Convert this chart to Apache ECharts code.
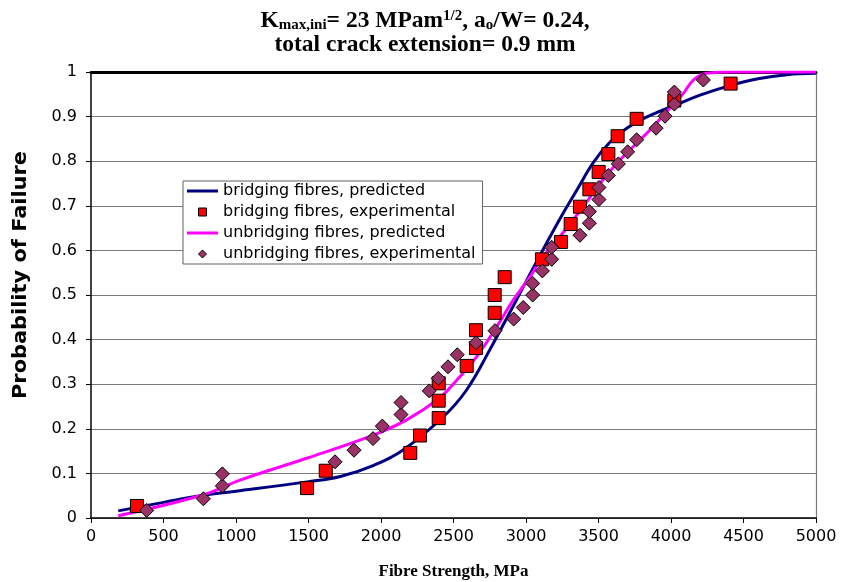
<!DOCTYPE html>
<html>
<head>
<meta charset="utf-8">
<script src="https://cdn.jsdelivr.net/npm/echarts@6/dist/echarts.min.js"></script>
<style>
  html, body { margin: 0; padding: 0; background: #fff; }
  #chart { width: 850px; height: 582px; }
</style>
</head>
<body>
<div id="chart"></div>
<script>
// Fibre strength (MPa) vs. cumulative probability of failure
const bridgingPredicted = [
  [188, 0.016], [500, 0.035], [775, 0.051], [1000, 0.060], [1490, 0.081],
  [1720, 0.093], [1950, 0.118], [2150, 0.152], [2430, 0.227], [2590, 0.287],
  [2750, 0.377], [2913, 0.476], [3028, 0.547], [3143, 0.617], [3250, 0.680],
  [3350, 0.735], [3464, 0.797], [3580, 0.843], [3700, 0.875], [3820, 0.897],
  [3924, 0.912], [4040, 0.927], [4200, 0.948], [4411, 0.970], [4600, 0.985],
  [4800, 0.994], [5000, 0.997]
];
const bridgingExperimental = [
  [317, 0.027], [1490, 0.067], [1619, 0.106], [2202, 0.146], [2269, 0.185],
  [2398, 0.224], [2398, 0.263], [2398, 0.302], [2591, 0.341], [2655, 0.381],
  [2655, 0.421], [2784, 0.460], [2784, 0.500], [2853, 0.540], [3110, 0.580],
  [3241, 0.619], [3308, 0.659], [3372, 0.698], [3437, 0.737], [3501, 0.776],
  [3568, 0.816], [3632, 0.856], [3763, 0.895], [4023, 0.936], [4411, 0.974]
];
const unbridgingPredicted = [
  [188, 0.005], [775, 0.052], [1028, 0.085], [1487, 0.134], [1947, 0.186],
  [2177, 0.220], [2407, 0.270], [2522, 0.309], [2660, 0.362], [2798, 0.429],
  [2913, 0.489], [3028, 0.541], [3100, 0.578], [3234, 0.631], [3395, 0.698],
  [3510, 0.750], [3626, 0.795], [3740, 0.833], [3855, 0.870], [3970, 0.911],
  [4085, 0.952], [4154, 0.982], [4246, 0.997], [4430, 1.000], [5000, 1.000]
];
const unbridgingExperimental = [
  [384, 0.017], [775, 0.043], [906, 0.072], [906, 0.099], [1683, 0.126],
  [1814, 0.152], [1945, 0.178], [2009, 0.206], [2138, 0.232], [2138, 0.259],
  [2333, 0.285], [2395, 0.313], [2462, 0.339], [2526, 0.366], [2655, 0.393],
  [2786, 0.420], [2915, 0.446], [2981, 0.472], [3046, 0.500], [3046, 0.526],
  [3113, 0.554], [3177, 0.580], [3177, 0.607], [3372, 0.634], [3437, 0.661],
  [3437, 0.687], [3503, 0.714], [3503, 0.741], [3568, 0.768], [3637, 0.794],
  [3701, 0.821], [3763, 0.848], [3897, 0.874], [3959, 0.901], [4023, 0.928],
  [4023, 0.955], [4223, 0.982]
];
const seriesNames = [
  'bridging fibres, predicted',
  'bridging fibres, experimental',
  'unbridging fibres, predicted',
  'unbridging fibres, experimental'
];
const xRange = [0, 5000, 500];
const yRange = [0, 1, 0.1];
const yAxisTitle = 'Probability of Failure';
const xAxisTitle = 'Fibre Strength, MPa';

const wideSans = 'DejaVu Sans, Verdana, sans-serif';
const serif = 'Liberation Serif, Times New Roman, serif';

const colors = {
  bridgingLine: '#000080',
  bridgingMark: '#ff0000',
  unbridgingLine: '#ff00ff',
  unbridgingMark: '#993366'
};

const chart = echarts.init(document.getElementById('chart'), null, { renderer: 'canvas' });

chart.setOption({
  animation: false,
  backgroundColor: '#ffffff',
  title: {
    left: 'center',
    top: 9,
    padding: [0, 8, 0, 0],
    text: '{b|K}{s|max,ini}{b|= 23 MPam}{p|1/2}{b|, a}{s|o}{b|/W= 0.24,}\n{b|total crack extension= 0.9 mm}',
    textStyle: {
      rich: {
        b: { fontFamily: serif, fontWeight: 'bold', fontSize: 23.5, color: '#000', lineHeight: 24 },
        s: { fontFamily: serif, fontWeight: 'bold', fontSize: 15, color: '#000', lineHeight: 16, verticalAlign: 'bottom' },
        p: { fontFamily: serif, fontWeight: 'bold', fontSize: 15, color: '#000', lineHeight: 14, verticalAlign: 'top' }
      }
    }
  },
  grid: { left: 91, right: 34, top: 72, bottom: 64, containLabel: false, outerBoundsMode: 'none' },
  graphic: [{
    type: 'text',
    x: 21,
    y: 275,
    rotation: Math.PI / 2,
    scaleX: 1.1,
    style: {
      text: yAxisTitle,
      font: 'bold 19px ' + wideSans,
      fill: '#000',
      align: 'center',
      verticalAlign: 'middle'
    }
  }],
  legend: {
    orient: 'vertical',
    left: 183,
    top: 181,
    padding: [2, 7, 2, 4],
    itemGap: 5,
    itemWidth: 31,
    itemHeight: 8,
    backgroundColor: '#ffffff',
    borderColor: '#606060',
    borderWidth: 1,
    textStyle: { fontFamily: wideSans, fontSize: 16, color: '#000', lineHeight: 16 },
    data: [
      { name: seriesNames[0], icon: 'path://M0,0 L31,0 L31,3 L0,3 Z',
        itemStyle: { color: colors.bridgingLine, borderWidth: 0 } },
      { name: seriesNames[1], icon: 'path://M0,0 L10,0 L10,10 L0,10 Z',
        itemStyle: { color: colors.bridgingMark, borderColor: '#000', borderWidth: 1 } },
      { name: seriesNames[2], icon: 'path://M0,0 L31,0 L31,3 L0,3 Z',
        itemStyle: { color: colors.unbridgingLine, borderWidth: 0 } },
      { name: seriesNames[3], icon: 'path://M5,0 L10,5 L5,10 L0,5 Z',
        itemStyle: { color: colors.unbridgingMark, borderColor: '#000', borderWidth: 1 } }
    ]
  },
  xAxis: [{
    type: 'value',
    min: xRange[0], max: xRange[1], interval: xRange[2],
    name: xAxisTitle,
    nameLocation: 'middle',
    nameGap: 45,
    nameTextStyle: { fontFamily: serif, fontWeight: 'bold', fontSize: 17, color: '#000' },
    axisLine: { onZero: false, lineStyle: { color: '#000', width: 1.5 } },
    axisTick: { show: true, length: 5, lineStyle: { color: '#000' } },
    axisLabel: { fontFamily: wideSans, fontSize: 16, color: '#000', margin: 11,
      formatter: v => String(v) },
    splitLine: { show: false }
  }, {
    type: 'value',
    position: 'top',
    min: xRange[0], max: xRange[1], interval: xRange[2],
    axisLine: { show: true, onZero: false, lineStyle: { color: '#000', width: 3 } },
    axisTick: { show: false },
    axisLabel: { show: false },
    splitLine: { show: false }
  }],
  yAxis: [{
    type: 'value',
    min: yRange[0], max: yRange[1], interval: yRange[2],
    axisLine: { show: true, onZero: false, lineStyle: { color: '#000', width: 1.5 } },
    axisTick: { show: true, length: 5, lineStyle: { color: '#000' } },
    axisLabel: { fontFamily: wideSans, fontSize: 16, color: '#000', margin: 14 },
    splitLine: { show: true, lineStyle: { color: '#7a7a7a', width: 1.2 } }
  }, {
    type: 'value',
    position: 'right',
    min: yRange[0], max: yRange[1], interval: yRange[2],
    axisLine: { show: true, onZero: false, lineStyle: { color: '#7a7a7a', width: 1.2 } },
    axisTick: { show: false },
    axisLabel: { show: false },
    splitLine: { show: false }
  }],
  series: [
    {
      name: seriesNames[0],
      type: 'line',
      data: bridgingPredicted,
      smooth: 0.4,
      symbol: 'none',
      lineStyle: { color: colors.bridgingLine, width: 3 },
      itemStyle: { color: colors.bridgingLine },
      z: 2
    },
    {
      name: seriesNames[1],
      type: 'scatter',
      data: bridgingExperimental,
      symbol: 'rect',
      symbolSize: 13,
      itemStyle: { color: colors.bridgingMark, borderColor: '#000', borderWidth: 1, opacity: 1 },
      z: 3
    },
    {
      name: seriesNames[2],
      type: 'line',
      data: unbridgingPredicted,
      smooth: 0.4,
      symbol: 'none',
      lineStyle: { color: colors.unbridgingLine, width: 3 },
      itemStyle: { color: colors.unbridgingLine },
      z: 2
    },
    {
      name: seriesNames[3],
      type: 'scatter',
      data: unbridgingExperimental,
      symbol: 'diamond',
      symbolSize: 14,
      itemStyle: { color: colors.unbridgingMark, borderColor: '#000', borderWidth: 1, opacity: 1 },
      z: 4
    }
  ]
});
</script>
</body>
</html>
